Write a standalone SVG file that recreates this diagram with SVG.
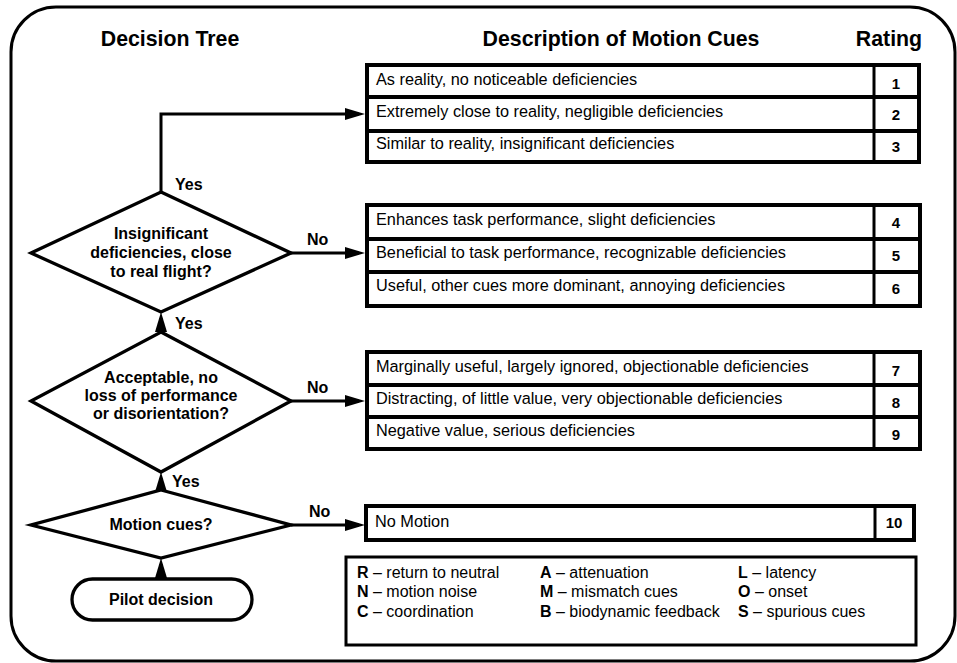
<svg xmlns="http://www.w3.org/2000/svg" width="957" height="663" viewBox="0 0 957 663">
<defs>
<style>
text{font-family:"Liberation Sans",Arial,sans-serif;fill:#000}
.hd{font-size:21.3px;font-weight:bold}
.q{font-size:16px;font-weight:bold;text-anchor:middle}
.lbl{font-size:16px;font-weight:bold}
.d{font-size:16.3px}
.n{font-size:15px;font-weight:bold;text-anchor:middle}
.lg{font-size:16px}
.lg tspan.b{font-weight:bold}
.shape{fill:#fff;stroke:#000;stroke-width:3.3;stroke-linejoin:miter}
.tbl{fill:#fff;stroke:#000;stroke-width:4}
.row{stroke:#000;stroke-width:4}
.col{stroke:#000;stroke-width:3}
.con{fill:none;stroke:#000;stroke-width:3;marker-end:url(#ah)}
</style>
<marker id="ah" viewBox="0 0 20 12" refX="14" refY="6" markerWidth="20" markerHeight="12" markerUnits="userSpaceOnUse" orient="auto">
<path d="M0,0 L20,6 L0,12 Z" fill="#000"/>
</marker>
</defs>
<rect width="957" height="663" fill="#fff"/>
<rect id="frame" x="11" y="7" width="944" height="654" rx="45" ry="45" fill="none" stroke="#000" stroke-width="3"/>

<g id="headers">
<text class="hd" x="170" y="46" text-anchor="middle">Decision Tree</text>
<text class="hd" x="621" y="46" text-anchor="middle">Description of Motion Cues</text>
<text class="hd" x="889" y="46" text-anchor="middle">Rating</text>
</g>

<g id="connectors">
<path class="con" d="M161,192 V114 H359"/>
<path class="con" d="M291,253 H359"/>
<path class="con" d="M291,401 H359"/>
<path class="con" d="M291,525 H359"/>
<path class="con" d="M161,332 V318"/>
<path class="con" d="M161,490 V478"/>
<path class="con" d="M161,579 V564"/>
<text class="lbl" x="175" y="190">Yes</text>
<text class="lbl" x="175" y="329">Yes</text>
<text class="lbl" x="172" y="487">Yes</text>
<text class="lbl" x="307" y="245">No</text>
<text class="lbl" x="307" y="393">No</text>
<text class="lbl" x="309" y="517">No</text>
</g>

<g id="q1">
<polygon class="shape" points="161,192 291,253 161,312 31,253"/>
<text class="q" x="161" y="238.5">Insignificant</text>
<text class="q" x="161" y="257.5">deficiencies, close</text>
<text class="q" x="161" y="276.5">to real flight?</text>
</g>

<g id="q2">
<polygon class="shape" points="161,332 291,401 161,472 31,401"/>
<text class="q" x="161" y="382.5">Acceptable, no</text>
<text class="q" x="161" y="400.5">loss of performance</text>
<text class="q" x="161" y="418.5">or disorientation?</text>
</g>

<g id="q3">
<polygon class="shape" points="161,490 291,525 161,558 31,525"/>
<text class="q" x="161" y="530">Motion cues?</text>
</g>

<g id="start">
<rect class="shape" x="72" y="579" width="180" height="41" rx="20.5" ry="20.5"/>
<text class="q" x="161" y="605">Pilot decision</text>
</g>

<g id="table1">
<rect class="tbl" x="367" y="65" width="552" height="97"/>
<line class="row" x1="367" y1="97" x2="919" y2="97"/>
<line class="row" x1="367" y1="131" x2="919" y2="131"/>
<line class="col" x1="874" y1="65" x2="874" y2="162"/>
<text class="d" x="376" y="85">As reality, no noticeable deficiencies</text>
<text class="d" x="376" y="117">Extremely close to reality, negligible deficiencies</text>
<text class="d" x="376" y="149">Similar to reality, insignificant deficiencies</text>
<text class="n" x="896" y="89">1</text>
<text class="n" x="896" y="120">2</text>
<text class="n" x="896" y="152">3</text>
</g>

<g id="table2">
<rect class="tbl" x="367" y="205" width="553" height="101"/>
<line class="row" x1="367" y1="239" x2="920" y2="239"/>
<line class="row" x1="367" y1="272" x2="920" y2="272"/>
<line class="col" x1="874" y1="205" x2="874" y2="306"/>
<text class="d" x="376" y="225">Enhances task performance, slight deficiencies</text>
<text class="d" x="376" y="258">Beneficial to task performance, recognizable deficiencies</text>
<text class="d" x="376" y="291">Useful, other cues more dominant, annoying deficiencies</text>
<text class="n" x="896" y="228">4</text>
<text class="n" x="896" y="261">5</text>
<text class="n" x="896" y="294">6</text>
</g>

<g id="table3">
<rect class="tbl" x="367" y="352" width="553" height="97"/>
<line class="row" x1="367" y1="385" x2="920" y2="385"/>
<line class="row" x1="367" y1="417" x2="920" y2="417"/>
<line class="col" x1="874" y1="352" x2="874" y2="449"/>
<text class="d" x="376" y="372">Marginally useful, largely ignored, objectionable deficiencies</text>
<text class="d" x="376" y="404">Distracting, of little value, very objectionable deficiencies</text>
<text class="d" x="376" y="436">Negative value, serious deficiencies</text>
<text class="n" x="896" y="376">7</text>
<text class="n" x="896" y="408">8</text>
<text class="n" x="896" y="440">9</text>
</g>

<g id="table4">
<rect class="tbl" x="366" y="506" width="548" height="34"/>
<line class="col" x1="875" y1="506" x2="875" y2="540"/>
<text class="d" x="375" y="527">No Motion</text>
<text class="n" x="894" y="528">10</text>
</g>

<g id="legend">
<rect x="346" y="557" width="570" height="88" fill="#fff" stroke="#000" stroke-width="3"/>
<text class="lg" x="357" y="578"><tspan class="b">R</tspan> – return to neutral</text>
<text class="lg" x="357" y="597"><tspan class="b">N</tspan> – motion noise</text>
<text class="lg" x="357" y="617"><tspan class="b">C</tspan> – coordination</text>
<text class="lg" x="540" y="578"><tspan class="b">A</tspan> – attenuation</text>
<text class="lg" x="540" y="597"><tspan class="b">M</tspan> – mismatch cues</text>
<text class="lg" x="540" y="617"><tspan class="b">B</tspan> – biodynamic feedback</text>
<text class="lg" x="738" y="578"><tspan class="b">L</tspan> – latency</text>
<text class="lg" x="738" y="597"><tspan class="b">O</tspan> – onset</text>
<text class="lg" x="738" y="617"><tspan class="b">S</tspan> – spurious cues</text>
</g>
</svg>
